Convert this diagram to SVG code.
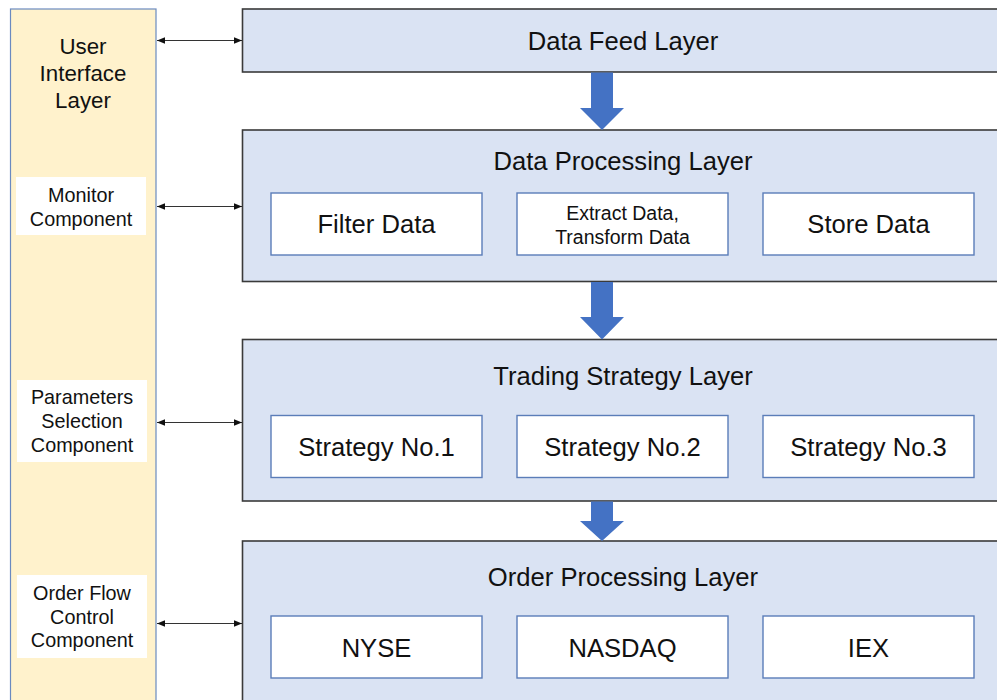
<svg xmlns="http://www.w3.org/2000/svg" width="997" height="700" viewBox="0 0 997 700">
  <defs>
    <marker id="tip" viewBox="0 0 10 10" refX="10" refY="5" markerWidth="8" markerHeight="8" markerUnits="userSpaceOnUse" orient="auto-start-reverse">
      <path d="M0,1 L10,5 L0,9 z" fill="#111"/>
    </marker>
  </defs>
  <style>
    text { font-family: "Liberation Sans", Arial, sans-serif; fill: #111; text-anchor: middle; dominant-baseline: central; }
    .layer { fill: #DAE3F3; stroke: #3a3a3a; stroke-width: 1.6; }
    .part { fill: #ffffff; stroke: #5B7DB8; stroke-width: 1.4; }
    .ui { fill: #FFF2CC; stroke: #6A8AC0; stroke-width: 1.2; }
    .tag { fill: #ffffff; }
    .t-layer { font-size: 25.6px; }
    .t-part { font-size: 25.6px; }
    .t-small { font-size: 19.5px; }
    .t-ui { font-size: 22.3px; }
    .t-tag { font-size: 19.8px; }
    .link { stroke: #333; stroke-width: 1; fill: none; marker-start: url(#tip); marker-end: url(#tip); }
    .flow { fill: #4472C4; }
  </style>

  <!-- user interface column -->
  <g id="ui-layer">
    <rect class="ui" x="10.5" y="9" width="145.5" height="700"/>
    <text class="t-ui" x="83" y="46">User</text>
    <text class="t-ui" x="83" y="73">Interface</text>
    <text class="t-ui" x="83" y="100">Layer</text>
  </g>
  <g id="monitor-component">
    <rect class="tag" x="16" y="177" width="130" height="58"/>
    <text class="t-tag" x="81" y="194.5">Monitor</text>
    <text class="t-tag" x="81" y="218.5">Component</text>
  </g>
  <g id="parameters-component">
    <rect class="tag" x="17" y="380" width="130" height="82"/>
    <text class="t-tag" x="82" y="397">Parameters</text>
    <text class="t-tag" x="82" y="421">Selection</text>
    <text class="t-tag" x="82" y="445">Component</text>
  </g>
  <g id="order-flow-component">
    <rect class="tag" x="17" y="575" width="130" height="83"/>
    <text class="t-tag" x="82" y="592.5">Order Flow</text>
    <text class="t-tag" x="82" y="616.5">Control</text>
    <text class="t-tag" x="82" y="640">Component</text>
  </g>

  <!-- data feed -->
  <g id="data-feed-layer">
    <rect class="layer" x="242.5" y="9" width="770" height="63"/>
    <text class="t-layer" x="623" y="41">Data Feed Layer</text>
  </g>

  <!-- data processing -->
  <g id="data-processing-layer">
    <rect class="layer" x="242.5" y="130" width="770" height="151.5"/>
    <text class="t-layer" x="623" y="161">Data Processing Layer</text>
    <g id="filter-data">
      <rect class="part" x="271" y="193" width="211" height="62"/>
      <text class="t-part" x="376.5" y="224">Filter Data</text>
    </g>
    <g id="extract-transform">
      <rect class="part" x="517" y="193" width="211" height="62"/>
      <text class="t-small" x="622.5" y="213">Extract Data,</text>
      <text class="t-small" x="622.5" y="237">Transform Data</text>
    </g>
    <g id="store-data">
      <rect class="part" x="763" y="193" width="211" height="62"/>
      <text class="t-part" x="868.5" y="224">Store Data</text>
    </g>
  </g>

  <!-- trading strategy -->
  <g id="trading-strategy-layer">
    <rect class="layer" x="242.5" y="339.5" width="770" height="161.5"/>
    <text class="t-layer" x="623" y="375.5">Trading Strategy Layer</text>
    <g id="strategy-1">
      <rect class="part" x="271" y="415.5" width="211" height="62"/>
      <text class="t-part" x="376.5" y="446.5">Strategy No.1</text>
    </g>
    <g id="strategy-2">
      <rect class="part" x="517" y="415.5" width="211" height="62"/>
      <text class="t-part" x="622.5" y="446.5">Strategy No.2</text>
    </g>
    <g id="strategy-3">
      <rect class="part" x="763" y="415.5" width="211" height="62"/>
      <text class="t-part" x="868.5" y="446.5">Strategy No.3</text>
    </g>
  </g>

  <!-- order processing -->
  <g id="order-processing-layer">
    <rect class="layer" x="242.5" y="541" width="770" height="180"/>
    <text class="t-layer" x="623" y="577">Order Processing Layer</text>
    <g id="nyse">
      <rect class="part" x="271" y="616" width="211" height="62"/>
      <text class="t-part" x="376.5" y="647.5">NYSE</text>
    </g>
    <g id="nasdaq">
      <rect class="part" x="517" y="616" width="211" height="62"/>
      <text class="t-part" x="622.5" y="647.5">NASDAQ</text>
    </g>
    <g id="iex">
      <rect class="part" x="763" y="616" width="211" height="62"/>
      <text class="t-part" x="868.5" y="647.5">IEX</text>
    </g>
  </g>

  <!-- connectors -->
  <g id="connectors">
    <line class="link" x1="157" y1="40.5" x2="242" y2="40.5"/>
    <line class="link" x1="157" y1="206.5" x2="242" y2="206.5"/>
    <line class="link" x1="157" y1="422.5" x2="242" y2="422.5"/>
    <line class="link" x1="157" y1="623.5" x2="242" y2="623.5"/>

    <polygon class="flow" points="591,72.5 613,72.5 613,108 624,108 602,130 580,108 591,108"/>
    <polygon class="flow" points="591,282 613,282 613,317 624,317 602,339.5 580,317 591,317"/>
    <polygon class="flow" points="591,501.5 613,501.5 613,521 624,521 602,541 580,521 591,521"/>
  </g>
</svg>
